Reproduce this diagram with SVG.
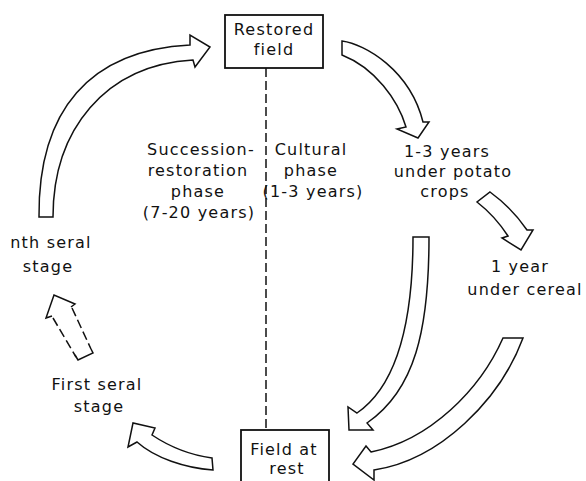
<svg xmlns="http://www.w3.org/2000/svg" width="586" height="481" viewBox="0 0 586 481">
<style>
.t{font-family:"DejaVu Sans","Liberation Sans",sans-serif;font-size:16px;letter-spacing:1.2px;fill:#111;text-anchor:middle}
.box{fill:#fff;stroke:#111;stroke-width:1.8}
.arr{fill:#fff;stroke:#111;stroke-width:1.5;stroke-linejoin:miter}
.dash{fill:none;stroke:#111;stroke-width:1.5;stroke-dasharray:9 4}
.solid{fill:none;stroke:#111;stroke-width:1.5}
</style>
<rect width="586" height="481" fill="#fff"/>
<g id="connectors">
<line class="dash" x1="266" y1="68" x2="266" y2="430"/>
<path class="arr" d="M342,41 C365,44 410,70 423,122 L429,122 L418,138 L397,129 L406,127 C398,100 375,68 342,55 Z"/>
<path class="arr" d="M490,192 Q512,208 527,230 L533,230 L521,250 L502,238 L508,236 Q495,216 477,202 Z"/>
<path class="arr" d="M413,237 L429,237 C429,330 415,390 367,423 L373,430 L349,430 L348,407 L357,413 C398,385 413,320 413,237 Z"/>
<path class="arr" d="M503,338 L523,338 C500,400 440,460 374,470 L374,480 L353,464 L366,446 L371,452 C430,440 480,390 503,338 Z"/>
<path class="arr" d="M212,458 C190,455 170,447 152,435 L155,428 L133,423 L128,447 L137,442 C155,458 185,468 213,470 Z"/>
<path class="arr" d="M39,217 C38,110 90,50 190,45 L190,35 L210,47 L195,67 L193,60 C105,65 53,130 53,217 Z"/>
<polyline class="solid" points="52,316 46,318 54,295 75,304 71,307"/>
<line class="dash" x1="53" y1="318" x2="76" y2="357"/>
<line class="dash" x1="72" y1="308" x2="91" y2="349"/>
<polyline class="solid" points="75,355 78,360 93,353 91,349"/>
</g>
<g id="restored-field">
<rect class="box" x="225" y="15" width="98" height="53"/>
<text class="t" x="274" y="35">Restored</text>
<text class="t" x="274" y="55">field</text>
</g>
<g id="field-at-rest">
<rect class="box" x="241" y="430" width="88" height="56"/>
<text class="t" x="284" y="455">Field at</text>
<text class="t" x="287" y="474">rest</text>
</g>
<g id="succession-phase">
<text class="t" x="201" y="155">Succession-</text>
<text class="t" x="198" y="176">restoration</text>
<text class="t" x="198" y="197">phase</text>
<text class="t" x="199" y="218">(7-20 years)</text>
</g>
<g id="cultural-phase">
<text class="t" x="311" y="155">Cultural</text>
<text class="t" x="311" y="176">phase</text>
<text class="t" x="313" y="197">(1-3 years)</text>
</g>
<g id="potato">
<text class="t" x="447" y="157">1-3 years</text>
<text class="t" x="453" y="177">under potato</text>
<text class="t" x="445" y="197">crops</text>
</g>
<g id="cereal">
<text class="t" x="520" y="272">1 year</text>
<text class="t" x="525" y="295">under cereal</text>
</g>
<g id="nth-seral">
<text class="t" x="51" y="248">nth seral</text>
<text class="t" x="48" y="272">stage</text>
</g>
<g id="first-seral">
<text class="t" x="97" y="390">First seral</text>
<text class="t" x="99" y="412">stage</text>
</g>
</svg>
